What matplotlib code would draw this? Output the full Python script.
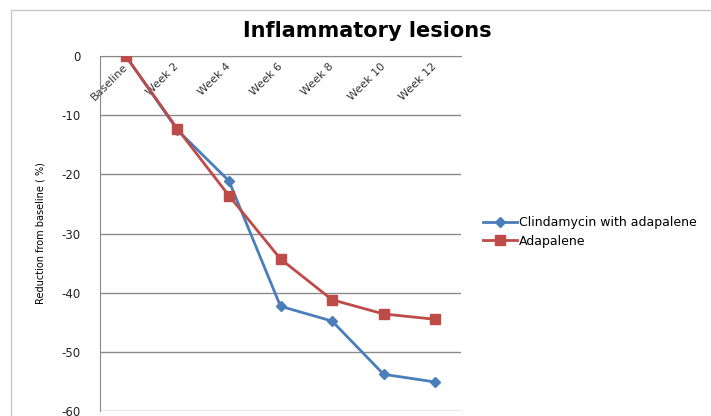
import matplotlib.pyplot as plt
from matplotlib.patches import Rectangle
from matplotlib.transforms import ScaledTranslation

weeks = ["Baseline", "Week 2", "Week 4", "Week 6", "Week 8", "Week 10", "Week 12"]
clinda_adapalene = [0, -12.5, -21.1, -42.3, -44.8, -53.8, -55.1]
adapalene = [0, -12.3, -23.6, -34.3, -41.2, -43.6, -44.5]

BLUE = "#4a7ebb"
RED = "#be4b48"
GRID = "#8a8a8a"

plt.rcParams["font.family"] = ["DejaVu Sans"]
plt.rcParams["axes.unicode_minus"] = False

fig = plt.figure(figsize=(7.11, 4.16), dpi=100)
ax = fig.add_axes([100 / 711, 5 / 416, 361 / 711, 355 / 416])

x = list(range(len(weeks)))
ax.plot(x, clinda_adapalene, color=BLUE, lw=2, marker="D", ms=5,
        label="Clindamycin with adapalene", zorder=3)
ax.plot(x, adapalene, color=RED, lw=2, marker="s", ms=7.5,
        label="Adapalene", zorder=4)

ax.set_xlim(-0.5, len(weeks) - 0.5)
ax.set_ylim(-60, 0)
ax.set_yticks(range(-60, 1, 10))
ax.yaxis.grid(True, color=GRID, lw=1)
ax.set_axisbelow(True)

# category axis sits on the zero line, labels hang below it
ax.spines["bottom"].set_position(("data", 0))
ax.spines["bottom"].set_color(GRID)
ax.spines["left"].set_color(GRID)
ax.spines["top"].set_visible(False)
ax.spines["right"].set_visible(False)
ax.set_xticks(x)
ax.set_xticklabels(weeks, rotation=45, ha="right", rotation_mode="anchor",
                   fontsize=8, color="#333333")
ax.tick_params(axis="x", length=0, pad=4)
ax.tick_params(axis="y", length=0, pad=14, labelsize=8.5, labelcolor="#222222")
shift = ScaledTranslation(-2.5 / 72, 0, fig.dpi_scale_trans)
for lbl in ax.get_xticklabels():
    lbl.set_transform(lbl.get_transform() + shift)

ax.set_ylabel("Reduction from baseline ( %)", fontsize=7,
              family=["Liberation Sans Narrow", "DejaVu Sans"])
ax.yaxis.set_label_coords(-0.15, 0.5)

fig.suptitle("Inflammatory lesions", x=367 / 711, y=1 - 31 / 416, va="center",
             fontsize=15, fontweight="bold")

ax.legend(loc="center left", bbox_to_anchor=(1.03, 0.505), frameon=False,
          fontsize=9, handlelength=2.7, handletextpad=0.2, labelspacing=0.45)

fig.patches.append(Rectangle((11 / 711, -0.1), 1.0, 1.1 - 10 / 416,
                             transform=fig.transFigure, fill=False,
                             edgecolor="#c8c8c8", lw=1))

fig.savefig("out.png", dpi=100)
